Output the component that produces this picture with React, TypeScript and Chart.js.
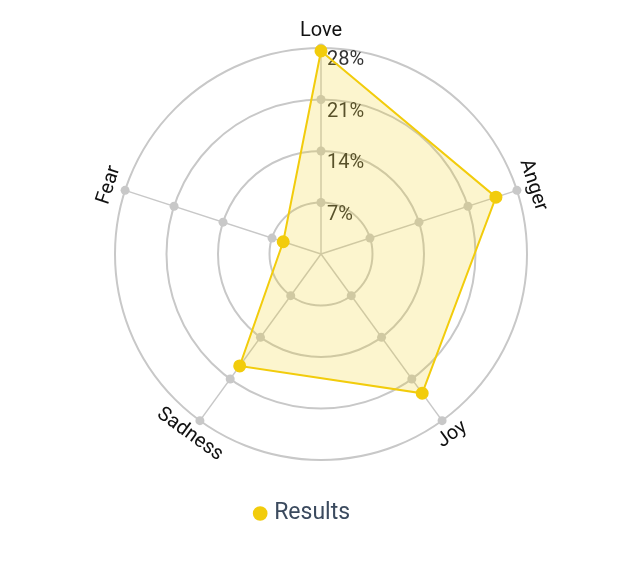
import React, { useEffect, useRef } from "react";
import { Chart, registerables } from "chart.js";

Chart.register(...registerables);

const categories = ["Love", "Anger", "Joy", "Sadness", "Fear"];
const resultsValues = [27.6, 25, 23.4, 18.8, 5.4];
const tickValues = [7, 14, 21, 28];
const tickLabels = ["7%", "14%", "21%", "28%"];
const seriesName = "Results";

const FONT = "Roboto, 'Noto Sans', sans-serif";

const overlayPlugin = {
  id: "radarOverlay",
  beforeDatasetsDraw(chart: any) {
    const scale = chart.scales.r;
    const ctx = chart.ctx;
    ctx.save();
    // gray dots at each tick on each spoke
    ctx.fillStyle = "#c8c8c8";
    for (let i = 0; i < categories.length; i++) {
      for (const v of tickValues) {
        const p = scale.getPointPositionForValue(i, v);
        ctx.beginPath();
        ctx.arc(p.x, p.y, 4.5, 0, Math.PI * 2);
        ctx.fill();
      }
    }
    // tick labels
    ctx.fillStyle = "#333333";
    ctx.font = `20px ${FONT}`;
    ctx.textAlign = "left";
    ctx.textBaseline = "alphabetic";
    tickValues.forEach((v, k) => {
      const p = scale.getPointPositionForValue(0, v);
      ctx.fillText(tickLabels[k], p.x + 6, p.y + 17);
    });
    // rotated point labels
    ctx.fillStyle = "#111111";
    ctx.textAlign = "center";
    ctx.textBaseline = "middle";
    const r = scale.drawingArea + 17;
    for (let i = 0; i < categories.length; i++) {
      const angle = scale.getIndexAngle(i);
      const p = scale.getPointPosition(i, r);
      let rot = angle;
      if (angle > Math.PI / 2 && angle < (Math.PI * 3) / 2) rot = angle - Math.PI;
      ctx.save();
      ctx.translate(p.x, p.y);
      ctx.rotate(rot);
      ctx.fillText(categories[i], 0, 0);
      ctx.restore();
    }
    ctx.restore();
  },
};

export default function App() {
  const canvasRef = useRef<HTMLCanvasElement | null>(null);

  useEffect(() => {
    if (!canvasRef.current) return;
    const chart = new Chart(canvasRef.current, {
      type: "radar",
      data: {
        labels: categories,
        datasets: [
          {
            label: seriesName,
            data: resultsValues,
            borderColor: "#f2cc0c",
            backgroundColor: "rgba(242, 204, 12, 0.2)",
            borderWidth: 2,
            pointBackgroundColor: "#f2cc0c",
            pointBorderColor: "#f2cc0c",
            pointRadius: 5.5,
            pointHoverRadius: 6,
            fill: true,
          },
        ],
      },
      options: {
        animation: false,
        responsive: true,
        maintainAspectRatio: false,
        layout: { padding: { top: 40, bottom: 35, left: 2, right: 0 } },
        scales: {
          r: {
            min: 0,
            max: 28,
            ticks: { display: false, stepSize: 7 },
            grid: { circular: true, color: "#c8c8c8", lineWidth: 2 },
            angleLines: { color: "#c8c8c8", lineWidth: 1.5 },
            pointLabels: { display: false },
          },
        },
        plugins: {
          legend: {
            position: "bottom",
            labels: {
              usePointStyle: true,
              pointStyle: "circle",
              boxWidth: 5,
              boxHeight: 9,
              padding: 42,
              color: "#3b4a5e",
              font: { size: 23, family: FONT },
              generateLabels(chart: any) {
                const items = Chart.defaults.plugins.legend.labels.generateLabels(chart);
                return items.map((it: any) => ({ ...it, text: it.text + "      " }));
              },
            },
          },
          tooltip: { enabled: false },
        },
      },
      plugins: [overlayPlugin],
    });
    return () => chart.destroy();
  }, []);

  return (
    <div style={{ width: "624px", height: "562px" }}>
      <canvas ref={canvasRef} />
    </div>
  );
}
